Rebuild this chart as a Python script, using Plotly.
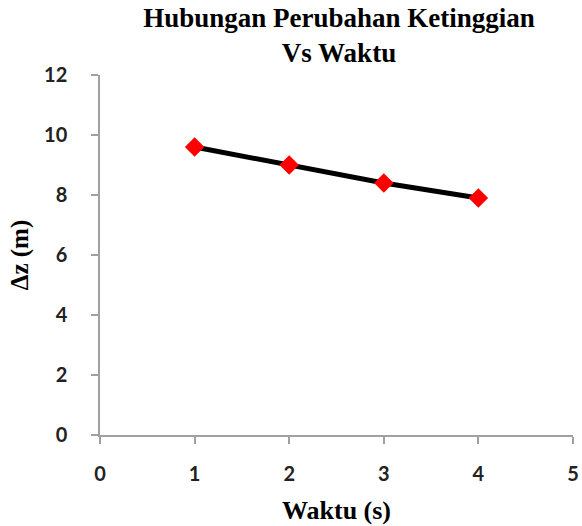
import plotly.graph_objects as go

waktu = [1, 2, 3, 4]
delta_z = [9.6, 9.0, 8.4, 7.9]
x_ticks = [0, 1, 2, 3, 4, 5]
y_ticks = [0, 2, 4, 6, 8, 10, 12]

title_text = "Hubungan Perubahan Ketinggian<br>Vs Waktu"
x_title = "Waktu (s)"
y_title = "Δz (m)"

fig = go.Figure()
fig.add_trace(go.Scatter(
    x=waktu, y=delta_z, mode="lines+markers",
    line=dict(color="black", width=5),
    marker=dict(symbol="diamond", size=15, color="#ff0000"),
    showlegend=False,
))

axis_common = dict(
    showgrid=False, zeroline=False, showline=True, automargin=False,
    linecolor="#a0a0a0", linewidth=1.5,
    ticks="outside", ticklen=7, tickcolor="#a0a0a0", tickwidth=1.5,
    tickfont=dict(family="Lato", size=20, color="#222222", weight="bold"),
)

fig.update_layout(
    width=582, height=526,
    margin=dict(l=100, r=9, t=75, b=91),
    plot_bgcolor="white", paper_bgcolor="white",
    title=dict(
        text=title_text,
        font=dict(family="Liberation Serif", size=27, color="black", weight="bold"),
        x=339 / 582, xanchor="center", xref="container",
        y=1 - 27 / 526, yanchor="top", yref="container",
        automargin=False,
    ),
    xaxis=dict(range=[0, 5], tickvals=x_ticks, ticklabelstandoff=13,
               title=dict(text=x_title, standoff=17,
                          font=dict(family="Liberation Serif", size=26, color="black", weight="bold")),
               **axis_common),
    yaxis=dict(range=[0, 12], tickvals=y_ticks, ticklabelstandoff=20,
               title=dict(text=y_title, standoff=8,
                          font=dict(family="Liberation Serif", size=25, color="black", weight="bold")),
               **axis_common),
)

fig.write_html("out.html")
